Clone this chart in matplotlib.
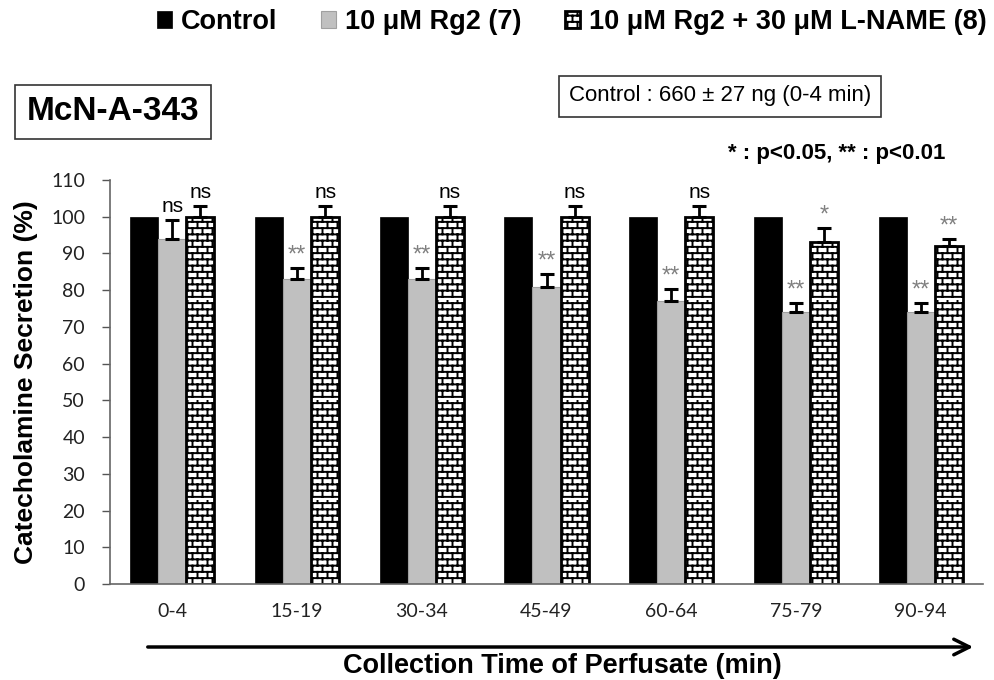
import warnings
import numpy as np
import matplotlib
matplotlib.use("Agg")
import matplotlib.pyplot as plt
import matplotlib.hatch as mhatch
from matplotlib.path import Path

warnings.filterwarnings("ignore")

# ---------------- data ----------------
categories = ["0-4", "15-19", "30-34", "45-49", "60-64", "75-79", "90-94"]
control = [100, 100, 100, 100, 100, 100, 100]
rg2 = [94, 83, 83, 81, 77, 74, 74]
rg2_err = [5, 3, 3, 3.3, 3.3, 2.5, 2.5]
lname = [100, 100, 100, 100, 100, 93, 92]
lname_err = [3, 3, 3, 3, 3, 4, 2]
rg2_sig = ["ns", "**", "**", "**", "**", "**", "**"]
lname_sig = ["ns", "ns", "ns", "ns", "ns", "*", "**"]
series_labels = ["Control", "10 \u03bcM Rg2 (7)", "10 \u03bcM Rg2 + 30 \u03bcM L-NAME (8)"]


# ---------------- brick hatch ----------------
class BrickHatch(mhatch.HatchPatternBase):
    def __init__(self, hatch, density):
        n = hatch.count('b')
        self.rows = 16 if n else 0
        self.cols = 10 if n else 0
        self.num_vertices = (self.rows + self.rows * self.cols) * 2

    def set_vertices_and_codes(self, vertices, codes):
        k = 0
        for i in range(self.rows):
            y0 = (i + 0.5) / self.rows
            y1 = (i + 1.5) / self.rows
            vertices[k] = (0.0, y0)
            vertices[k + 1] = (1.0, y0)
            k += 2
            off = 0.5 if i % 2 else 0.0
            for j in range(self.cols):
                xx = (j + 0.25 + off) / self.cols
                vertices[k] = (xx, y0)
                vertices[k + 1] = (xx, y1)
                k += 2
        codes[0::2] = Path.MOVETO
        codes[1::2] = Path.LINETO


mhatch._hatch_types.append(BrickHatch)
plt.rcParams['hatch.linewidth'] = 1.4

# ---------------- figure ----------------
fig = plt.figure(figsize=(9.95, 6.8), dpi=100)
ax = fig.add_axes([110 / 995, 96 / 680, 873 / 995, 404 / 680])

x = np.arange(len(categories))
w = 0.225

b1 = ax.bar(x - w, control, w, color='black', edgecolor='black', linewidth=0.5,
            label=series_labels[0], zorder=2)
b2 = ax.bar(x, rg2, w, color='#c0c0c0', edgecolor='#a0a0a0', linewidth=0.8,
            label=series_labels[1], zorder=2)
b3 = ax.bar(x + w, lname, w, color='white', edgecolor='black', linewidth=2.0,
            hatch='b', label=series_labels[2], zorder=2)

ekw = dict(fmt='none', ecolor='black', elinewidth=2.0, capsize=5, capthick=2.2, zorder=3)
ax.errorbar(x, rg2, yerr=[np.zeros(len(rg2)), rg2_err], **ekw)
ax.errorbar(x + w, lname, yerr=[np.zeros(len(lname)), lname_err], **ekw)


def mark(xs, vals, errs, sigs):
    for xi, v, e, s in zip(xs, vals, errs, sigs):
        if s == "ns":
            ax.annotate(s, (xi, v + e), xytext=(0, 3), textcoords='offset points',
                        ha='center', va='bottom', fontsize=15, family='Liberation Sans')
        else:
            ax.annotate(s, (xi, v + e), xytext=(0, 1), textcoords='offset points',
                        ha='center', va='bottom', fontsize=17, color='#808080',
                        family='Liberation Sans')


mark(x, rg2, rg2_err, rg2_sig)
mark(x + w, lname, lname_err, lname_sig)

ax.set_xlim(-0.5, len(categories) - 0.5)
ax.set_ylim(0, 110)
ax.set_yticks(np.arange(0, 111, 10))
ax.set_xticks(x)
ax.set_xticklabels(categories)
for lab in ax.get_xticklabels() + ax.get_yticklabels():
    lab.set_family('Lato')
    lab.set_fontsize(14)
    lab.set_color('#222222')
ax.tick_params(axis='y', length=6, width=1, color='#555555', pad=12, direction='out')
ax.tick_params(axis='x', length=0, pad=14)

for sp in ['top', 'right']:
    ax.spines[sp].set_visible(False)
ax.spines['left'].set_color('#666666')
ax.spines['bottom'].set_color('#666666')
ax.spines['left'].set_linewidth(1.2)
ax.spines['bottom'].set_linewidth(1.2)

ax.set_ylabel("Catecholamine Secretion (%)", fontsize=19, fontweight='bold',
              family='Liberation Sans')
ax.yaxis.set_label_coords(-0.082, 0.5)

# x label with arrow
fig.text(562 / 995, 1 - 666 / 680, "Collection Time of Perfusate (min)",
         ha='center', va='center', fontsize=19.5, fontweight='bold', family='Liberation Sans')
fig.add_artist(matplotlib.patches.FancyArrowPatch(
    (145 / 995, 1 - 647 / 680), (976 / 995, 1 - 647 / 680),
    transform=fig.transFigure, arrowstyle='->', mutation_scale=28, lw=2.5, color='black'))

# boxes
fig.text(113 / 995, 1 - 112 / 680, "McN-A-343", ha='center', va='center',
         fontsize=24, fontweight='bold', family='Liberation Sans',
         bbox=dict(boxstyle='square,pad=0.35', fc='white', ec='#333333', lw=1.2))
fig.text(720 / 995, 1 - 96 / 680, "Control : 660 \u00b1 27 ng (0-4 min)", ha='center',
         va='center', fontsize=16, family='Liberation Sans',
         bbox=dict(boxstyle='square,pad=0.45', fc='white', ec='#333333', lw=1.2))
fig.text(945 / 995, 1 - 153 / 680, "* : p<0.05, ** : p<0.01", ha='right', va='center',
         fontsize=16, fontweight='bold', family='Liberation Sans')

# legend
leg = fig.legend(handles=[b1, b2, b3], labels=series_labels, loc='center',
                 bbox_to_anchor=(572 / 995, 1 - 22 / 680), ncol=3, frameon=False,
                 prop={'family': 'Liberation Sans', 'weight': 'bold', 'size': 19.5},
                 handlelength=0.55, handleheight=0.55, handletextpad=0.35,
                 columnspacing=1.6, borderaxespad=0)

fig.savefig("out.png", dpi=100)
